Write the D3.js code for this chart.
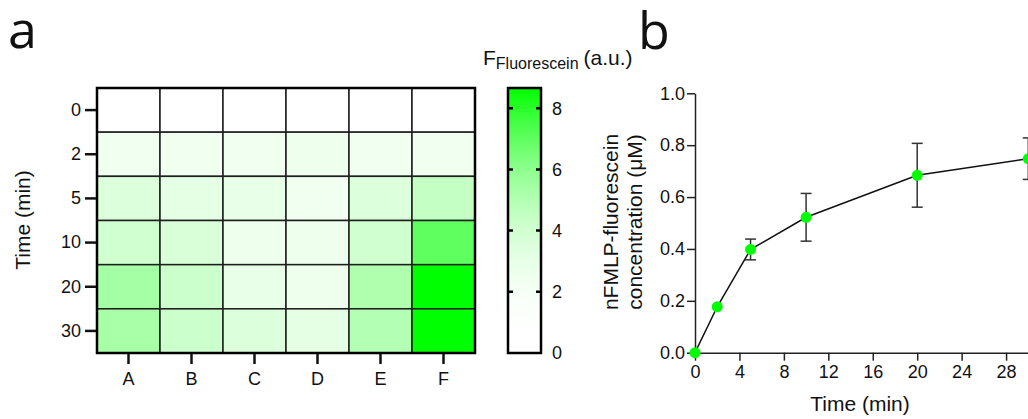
<!DOCTYPE html>
<html>
<head>
<meta charset="utf-8">
<script src="https://cdn.jsdelivr.net/npm/d3@7"></script>
<style>
  body { margin: 0; background: #fff; }
  svg { display: block; }
  text { font-family: "Liberation Sans", Arial, sans-serif; fill: #111; }
  .panel { font-family: "Open Sans", sans-serif; font-size: 52px; }
</style>
</head>
<body>
<div id="chart"></div>
<script>
// heatmap data (panel a)
const wells = ["A", "B", "C", "D", "E", "F"];
const heatTimes = ["0", "2", "5", "10", "20", "30"];
const fluo = [
  [0, 0, 0, 0, 0, 0],
  [2.4, 2.4, 2.4, 2.5, 2.4, 2.3],
  [3.5, 3.1, 2.9, 2.4, 3.5, 4.45],
  [4.0, 3.7, 2.5, 2.5, 4.0, 7.0],
  [5.4, 4.2, 2.9, 2.5, 5.1, 8.66],
  [5.3, 4.2, 3.5, 3.1, 5.0, 8.66]
];
const colorTicks = [0, 2, 4, 6, 8];
const fluoMax = 8.66;

// kinetics data (panel b)
const time = [0, 2, 5, 10, 20, 30];
const conc = [0, 0.177, 0.398, 0.522, 0.684, 0.748];
const concErr = [0, 0.01, 0.04, 0.092, 0.123, 0.08];
const timeTicks = [0, 4, 8, 12, 16, 20, 24, 28];
const concTicks = [0, 0.2, 0.4, 0.6, 0.8, 1.0];

var width = 1028, height = 419;

var svg = d3.select("#chart").append("svg")
    .attr("width", width)
    .attr("height", height);

// white -> pure green, with a gamma curve like the original colour bar
function fluoColor(v) {
  var t = Math.max(0, Math.min(1, v / fluoMax));
  return d3.interpolateRgb("#ffffff", "#00ff00")(Math.pow(t, 2.2));
}

// ---------- panel a ----------
svg.append("text").attr("class", "panel").attr("x", 8).attr("y", 48).text("a");

var hx = d3.scaleBand().domain(wells).range([97, 475]);
var hy = d3.scaleBand().domain(heatTimes).range([88, 353]);

var cells = [];
heatTimes.forEach(function(t, i) {
  wells.forEach(function(w, j) {
    cells.push({ t: t, w: w, v: fluo[i][j] });
  });
});

svg.append("g").selectAll("rect")
    .data(cells)
  .enter().append("rect")
    .attr("x", function(d) { return hx(d.w); })
    .attr("y", function(d) { return hy(d.t); })
    .attr("width", hx.bandwidth())
    .attr("height", hy.bandwidth())
    .attr("fill", function(d) { return fluoColor(d.v); })
    .attr("stroke", "#1e1e1e")
    .attr("stroke-width", 1.5);

svg.append("rect")
    .attr("x", 97).attr("y", 88)
    .attr("width", 378).attr("height", 265)
    .attr("fill", "none")
    .attr("stroke", "#000")
    .attr("stroke-width", 2.5);

var hyAxis = svg.append("g")
    .attr("transform", "translate(96,0)")
    .call(d3.axisLeft(hy).tickSize(11).tickPadding(4));
var hxAxis = svg.append("g")
    .attr("transform", "translate(0,354)")
    .call(d3.axisBottom(hx).tickSize(10).tickPadding(8));
[hyAxis, hxAxis].forEach(function(a) {
  a.select(".domain").remove();
  a.selectAll(".tick line").attr("stroke", "#111").attr("stroke-width", 2.5);
  a.selectAll(".tick text").attr("font-size", 18).attr("fill", "#111")
    .attr("font-family", "Liberation Sans, Arial, sans-serif");
});

svg.append("text")
    .attr("transform", "translate(30,220)rotate(-90)")
    .attr("text-anchor", "middle")
    .attr("font-size", 21)
    .text("Time (min)");

// colour bar
var cy = d3.scaleLinear().domain([0, fluoMax]).range([353, 88]);
var grad = svg.append("defs").append("linearGradient")
    .attr("id", "fluoGrad")
    .attr("x1", 0).attr("y1", 1).attr("x2", 0).attr("y2", 0);
grad.selectAll("stop")
    .data(d3.range(0, 21))
  .enter().append("stop")
    .attr("offset", function(d) { return d / 20; })
    .attr("stop-color", function(d) { return fluoColor(d / 20 * fluoMax); });

svg.append("rect")
    .attr("x", 508).attr("y", 88)
    .attr("width", 33).attr("height", 265)
    .attr("fill", "url(#fluoGrad)")
    .attr("stroke", "#000")
    .attr("stroke-width", 2.5);

svg.append("g").selectAll("path")
    .data(colorTicks.filter(function(d) { return d > 0; }))
  .enter().append("path")
    .attr("d", function(d) {
      var y = cy(d);
      return "M508," + y + "h5M541," + y + "h-5";
    })
    .attr("stroke", "#000")
    .attr("stroke-width", 2.5);

svg.append("g").selectAll("text")
    .data(colorTicks)
  .enter().append("text")
    .attr("x", 552)
    .attr("y", function(d) { return cy(d); })
    .attr("dy", "0.36em")
    .attr("font-size", 18)
    .text(function(d) { return d; });

var ctitle = svg.append("text").attr("x", 483).attr("y", 65).attr("font-size", 21);
ctitle.append("tspan").text("F");
ctitle.append("tspan").attr("font-size", 16).attr("dy", 4).text("Fluorescein");
ctitle.append("tspan").attr("dy", -4).attr("dx", 5).text("(a.u.)");

// ---------- panel b ----------
svg.append("text").attr("class", "panel").attr("x", 638).attr("y", 49).text("b");

var x = d3.scaleLinear().domain([0, 32]).range([695, 695 + 32 * 11.11]);
var y = d3.scaleLinear().domain([0, 1]).range([352.7, 93.3]);

var yAxis = svg.append("g")
    .attr("transform", "translate(695,0)")
    .call(d3.axisLeft(y).tickValues(concTicks).tickFormat(d3.format(".1f"))
      .tickSize(8).tickSizeOuter(0).tickPadding(2));
var xAxis = svg.append("g")
    .attr("transform", "translate(0,352.7)")
    .call(d3.axisBottom(x).tickValues(timeTicks).tickSize(8).tickSizeOuter(0).tickPadding(5));
[yAxis, xAxis].forEach(function(a) {
  a.select(".domain").attr("stroke", "#222").attr("stroke-width", 1.5);
  a.selectAll(".tick line").attr("stroke", "#222").attr("stroke-width", 1.5);
  a.selectAll(".tick text").attr("font-size", 18).attr("fill", "#111")
    .attr("font-family", "Liberation Sans, Arial, sans-serif");
});

var pts = time.map(function(t, i) { return { t: t, c: conc[i], e: concErr[i] }; });

svg.append("path")
    .datum(pts)
    .attr("fill", "none")
    .attr("stroke", "#111")
    .attr("stroke-width", 1.5)
    .attr("d", d3.line().x(function(d) { return x(d.t); }).y(function(d) { return y(d.c); }));

var eb = svg.append("g").selectAll("g")
    .data(pts.filter(function(d) { return d.e > 0.02; }))
  .enter().append("g")
    .attr("stroke", "#333")
    .attr("stroke-width", 1.5);
eb.append("line")
    .attr("x1", function(d) { return x(d.t); }).attr("x2", function(d) { return x(d.t); })
    .attr("y1", function(d) { return y(d.c - d.e); }).attr("y2", function(d) { return y(d.c + d.e); });
eb.append("line")
    .attr("x1", function(d) { return x(d.t) - 5.5; }).attr("x2", function(d) { return x(d.t) + 5.5; })
    .attr("y1", function(d) { return y(d.c + d.e); }).attr("y2", function(d) { return y(d.c + d.e); });
eb.append("line")
    .attr("x1", function(d) { return x(d.t) - 5.5; }).attr("x2", function(d) { return x(d.t) + 5.5; })
    .attr("y1", function(d) { return y(d.c - d.e); }).attr("y2", function(d) { return y(d.c - d.e); });

svg.append("g").selectAll("circle")
    .data(pts)
  .enter().append("circle")
    .attr("cx", function(d) { return x(d.t); })
    .attr("cy", function(d) { return y(d.c); })
    .attr("r", 5.5)
    .attr("fill", "#00ff00");

svg.append("text")
    .attr("transform", "translate(610,222)rotate(-90)")
    .attr("text-anchor", "middle")
    .attr("dy", "0.36em")
    .attr("font-size", 21)
    .text("nFMLP-fluorescein");
svg.append("text")
    .attr("transform", "translate(634,222)rotate(-90)")
    .attr("text-anchor", "middle")
    .attr("dy", "0.36em")
    .attr("font-size", 21)
    .text("concentration (\u03bcM)");

svg.append("text")
    .attr("x", 860).attr("y", 411)
    .attr("text-anchor", "middle")
    .attr("font-size", 21)
    .text("Time (min)");
</script>
</body>
</html>
